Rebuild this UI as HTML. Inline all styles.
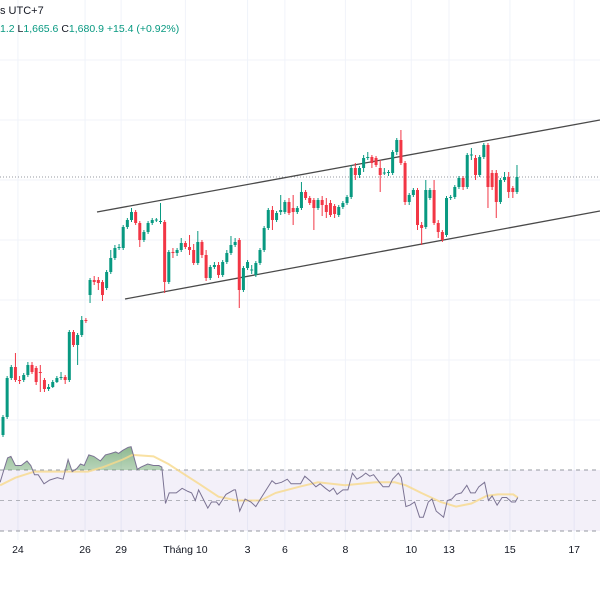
<!DOCTYPE html>
<html><head><meta charset="utf-8">
<style>
html,body{margin:0;padding:0;background:#fff;width:600px;height:600px;overflow:hidden}
svg{display:block;font-family:"Liberation Sans",sans-serif}
</style></head>
<body>
<svg id="chart" width="600" height="600" viewBox="0 0 600 600" xmlns="http://www.w3.org/2000/svg">
  <g id="grid"></g>
  <rect x="0" y="470" width="600" height="61" fill="#7e57c2" fill-opacity="0.09"/>
  <line x1="0" y1="470" x2="600" y2="470" stroke="#9598a1" stroke-dasharray="4,4" stroke-width="1"/>
  <line x1="0" y1="500.5" x2="600" y2="500.5" stroke="#9598a1" stroke-dasharray="4,4" stroke-width="1" stroke-opacity="0.7"/>
  <line x1="0" y1="531" x2="600" y2="531" stroke="#9598a1" stroke-dasharray="4,4" stroke-width="1"/>
  <line x1="0" y1="177" x2="600" y2="177" stroke="#9598a1" stroke-dasharray="1,2" stroke-width="1"/>
  <line x1="97" y1="212" x2="600" y2="120" stroke="#4a4a4a" stroke-width="1.3"/>
  <line x1="125" y1="299" x2="600" y2="211" stroke="#4a4a4a" stroke-width="1.3"/>
  <g id="candles"></g>
  <g id="rsi"></g>
  <g id="xaxis"></g>
  <text x="0" y="14" font-size="11" fill="#131722">s UTC+7</text>
  <text x="0" y="32" font-size="10.5" fill="#089981">1.2 <tspan fill="#131722">L</tspan>1,665.6 <tspan fill="#131722">C</tspan>1,680.9 +15.4 (+0.92%)</text>
</svg>
<script>
const opens=[1423,1441,1480,1491,1478,1478,1483,1493,1490,1486,1478,1469,1471,1476,1480,1481,1478,1526,1513,1523,1538,1563,1578,1578,1576,1570,1586,1600,1610,1610,1631,1638,1646,1635,1618,1626,1635,1638,1636,1636,1576,1606,1605,1608,1615,1611,1608,1595,1616,1603,1580,1591,1593,1583,1596,1605,1613,1618,1568,1590,1588,1583,1595,1608,1630,1648,1638,1646,1646,1656,1650,1646,1650,1666,1660,1658,1650,1658,1653,1655,1652,1643,1651,1655,1661,1690,1683,1690,1700,1701,1700,1690,1685,1685,1685,1706,1718,1695,1656,1663,1668,1633,1631,1660,1668,1635,1626,1623,1660,1661,1671,1680,1671,1703,1700,1683,1701,1713,1685,1685,1656,1678,1681,1670,1666];
const closes=[1441,1480,1491,1478,1477,1483,1493,1486,1476,1485,1469,1471,1476,1480,1481,1478,1526,1513,1523,1538,1537,1578,1576,1575,1563,1586,1600,1610,1611,1631,1638,1646,1635,1618,1626,1635,1638,1638.5,1637,1576,1606,1605,1608,1615,1611,1608,1595,1616,1603,1580,1591,1593,1583,1596,1605,1613,1616,1568,1590,1596,1588.5,1595,1608,1630,1648,1638,1645,1648,1656,1645,1646,1650,1666,1660,1655,1650,1658,1653,1646,1643,1644,1651,1655,1661,1690,1683,1690,1700,1701,1695,1693,1683,1685.5,1686,1706,1718,1695,1656,1663,1668,1633,1630,1668,1668,1635,1626,1618,1660,1661,1671,1680,1671,1703,1703.5,1683,1701,1713,1671,1671,1656,1678,1681,1666,1666,1681];
const highs=[1443,1482,1493,1505,1482,1485,1496,1496,1492,1493,1480,1474,1478,1482,1486,1483,1528,1528,1525,1542,1540,1580,1582,1581,1578,1588,1608,1613,1614,1633,1640,1650,1648,1637,1628,1637,1640,1640,1655,1638,1608,1610,1610,1620,1617,1623,1614,1627,1618,1608,1593,1596,1596,1598,1608,1622,1620,1620,1592,1598,1593,1597,1610,1632,1650,1652,1647,1663,1658,1660,1663,1652,1676,1668,1662,1660,1660,1662,1660,1658,1654,1653,1657,1663,1693,1695,1692,1703,1706,1703,1702,1698,1690,1688,1708,1720,1728,1697,1665,1670,1670,1636,1678,1670,1678,1638,1628,1662,1663,1673,1682,1682,1705,1710,1703,1703,1715,1715,1688,1688,1680,1686,1686,1672,1693];
const lows=[1421,1439,1478,1476,1474,1476,1481,1484,1473,1466,1466,1467,1470,1475,1478,1474,1476,1511,1493,1521,1535,1555,1573,1568,1557,1568,1584,1598,1608,1608,1629,1636,1633,1611,1616,1624,1633,1636,1634,1565,1574,1600,1602,1606,1609,1603,1593,1593,1600,1577,1578,1589,1580,1581,1594,1603,1611,1550,1566,1588,1584,1581,1593,1606,1628,1628,1636,1643,1644,1643,1633,1644,1648,1658,1653,1628,1648,1642,1640,1641,1640,1641,1649,1653,1659,1678,1680,1686,1698,1690,1691,1666,1683,1682,1683,1703,1693,1653,1653,1661,1628,1613,1629,1658,1633,1620,1616,1621,1658,1659,1669,1668,1669,1698,1678,1681,1699,1650,1668,1640,1654,1676,1660,1660,1664];
const rsiIdx=[-0.7,0.4,1.1,1.9,3.0,4.4,5.8,6.7,7.6,8.5,9.9,11.3,13.1,14.5,15.7,16.7,17.8,18.7,19.6,20.7,21.9,23.5,24.7,26.1,27.2,27.9,28.9,30.2,30.9,32.4,33.3,34.9,36.3,37.6,38.3,39.2,40.1,41.8,43.2,44.6,45.5,46.4,47.2,48.3,49.4,50.3,51.5,52.1,53.8,55.7,56.1,57.1,58.4,59.8,61.0,62.1,63.5,64.9,65.8,67.2,68.6,69.5,70.9,71.8,72.8,74.1,75.5,76.5,77.8,78.8,79.7,80.6,82.0,83.2,84.3,85.4,86.6,87.5,88.5,89.4,90.8,91.7,93.1,94.0,95.4,96.1,97.2,98.2,99.3,100.5,101.4,102.6,103.5,104.5,106.3,107.2,108.3,109.3,110.6,111.9,112.8,113.9,114.8,116.2,117.1,118.0,119.2,120.4,121.5,122.7,123.6,124.2];
const rsiVals=[62,72,78,79,73,73,76,73,67,67,61,63.5,65,64,77,69,71,74,73,80,79,76,80,81,82,81,83,85,85.4,70.5,72,74,73,73,72,48,55,55,58,56,55,50,57,51,45,49,49,47,54,57,57,43,51,49,46,51,57,63,61,62,64,61,61,61,66,63,59,61,58,56,58,54,57,57,68,64,66,68,66,67,62,59,59,64,68,65,46,47,49,39,39,49,51,43,39,50,51,54,55,60,55,55,59,62,50,53,47,52,52,49,49,52];
const maIdx=[-0.7,3,7.6,13.1,20.5,24.2,28.9,31.2,36.3,39.9,42.7,47.3,52,56.6,62.1,65.8,71.4,76,82.5,89.9,94.5,97.2,100.9,105.6,109.3,113,116.7,119.4,123.1,124.2];
const maVals=[60,65,69,69,69,72,77,80,79,74,69,61,52.5,50,50,55,59,62,60,62,62,60,55,49,46,48,53,54,54,52];
const tickLabels=["24","26","29","Tháng 10","3","6","8","10","13","15","17"];
const tickIdx=[3.6,19.8,28.5,44,59,68,82.6,98.5,107.6,122.3,137.8];

const NS="http://www.w3.org/2000/svg";
const x0=3, step=4.145;
const xOf=i=>x0+i*step;
const pTop=1858; // price to y
const yOf=p=>pTop-p;
const rY=v=>500.5-(v-50)*1.52;
function mk(tag,attrs,parent){const e=document.createElementNS(NS,tag);for(const k in attrs)e.setAttribute(k,attrs[k]);parent.appendChild(e);return e;}

// grid
const grid=document.getElementById('grid');
tickIdx.forEach(t=>{
  const l=mk('line',{x1:xOf(t),x2:xOf(t),y1:0,y2:540,stroke:'#f0f3fa','stroke-width':1},grid);
  
  
});
[60,120,180,240,300,360,420].forEach(y=>{
  const l=mk('line',{x1:0,x2:600,y1:y,y2:y,stroke:'#f0f3fa','stroke-width':1},grid);
  
  
});

// candles
const cg=document.getElementById('candles');
for(let i=0;i<opens.length;i++){
  const up=closes[i]>=opens[i];
  const col=up?'#089981':'#f23645';
  const x=xOf(i);
  const g=mk('g',{},cg);
  
  
  mk('line',{x1:x,x2:x,y1:yOf(highs[i]),y2:yOf(lows[i]),stroke:col,'stroke-width':1},g);
  const top=yOf(Math.max(opens[i],closes[i])),bot=yOf(Math.min(opens[i],closes[i]));
  mk('rect',{x:x-1.5,y:top,width:3,height:Math.max(1,bot-top),fill:col},g);
}

// RSI
const rg=document.getElementById('rsi');
const defs=mk('defs',{},rg);
const grad=mk('linearGradient',{id:'obg',x1:0,y1:0,x2:0,y2:1},defs);
mk('stop',{offset:'0','stop-color':'#2e7d32','stop-opacity':'0.55'},grad);
mk('stop',{offset:'1','stop-color':'#c8e6c9','stop-opacity':'0.25'},grad);
const clip=mk('clipPath',{id:'above70'},defs);
mk('rect',{x:0,y:400,width:600,height:rY(70)-400},clip);
let pts=rsiIdx.map((t,k)=>xOf(t).toFixed(1)+','+rY(rsiVals[k]).toFixed(1));
const fillD='M'+xOf(rsiIdx[0])+','+rY(70)+' L'+pts.join(' L')+' L'+xOf(rsiIdx[rsiIdx.length-1])+','+rY(70)+' Z';
const ob=mk('path',{d:fillD,fill:'url(#obg)','clip-path':'url(#above70)'},rg);


const ma=mk('polyline',{points:maIdx.map((t,k)=>xOf(t).toFixed(1)+','+rY(maVals[k]).toFixed(1)).join(' '),fill:'none',stroke:'#f7d98b','stroke-width':2,'stroke-opacity':0.8},rg);


const rl=mk('polyline',{points:pts.join(' '),fill:'none',stroke:'#7b7393','stroke-width':1},rg);



// x axis
const xa=document.getElementById('xaxis');
tickLabels.forEach((s,k)=>{
  const t=mk('text',{x:xOf(tickIdx[k]),y:553,'font-size':10.5,fill:'#131722','text-anchor':'middle'},xa);
  
  
  t.textContent=s;
});
</script>
</body></html>
